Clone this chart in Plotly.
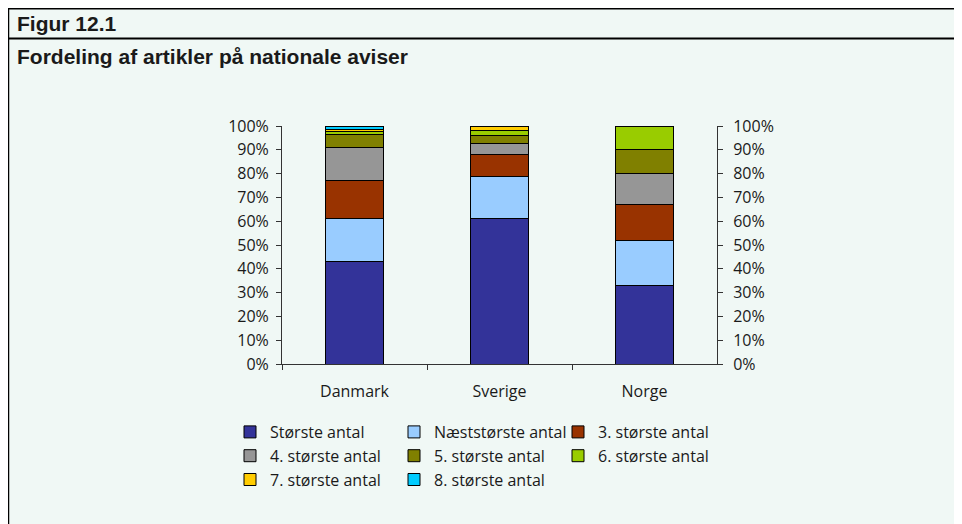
import plotly.graph_objects as go

categories = ["Danmark", "Sverige", "Norge"]
series_names = ["Største antal", "Næststørste antal", "3. største antal", "4. største antal",
                "5. største antal", "6. største antal", "7. største antal", "8. største antal"]
s1 = [43.0, 61.0, 32.8]
s2 = [18.2, 17.8, 19.2]
s3 = [15.8, 9.2, 15.1]
s4 = [14.0, 4.7, 13.0]
s5 = [5.6, 3.4, 10.1]
s6 = [1.2, 2.1, 9.8]
s7 = [0.6, 1.8, 0.0]
s8 = [1.6, 0.0, 0.0]
series_values = [s1, s2, s3, s4, s5, s6, s7, s8]
colors = ["#333399", "#99CCFF", "#993300", "#969696", "#808000", "#99CC00", "#FFCC00", "#00CCFF"]
tick_vals = [0, 10, 20, 30, 40, 50, 60, 70, 80, 90, 100]
tick_text = [f"{v}%" for v in tick_vals]

# page offset (body margin) between screenshot and figure coordinates
OFF = 8
W, H = 962, 524
ML, MT = 282 - OFF - 62, 126 - OFF
GW, GH = 560, 238
MR = W - ML - GW
MB = H - MT - GH


def px_x(px):
    return (px - OFF - ML) / GW


def px_y(py):
    return (MT + GH - (py - OFF)) / GH


FONT = "Open Sans, Noto Sans, DejaVu Sans, sans-serif"
TXT = "#1a1a1a"
MINT = "#F0F8F5"

fig = go.Figure()
for name, vals, col in zip(series_names, series_values, colors):
    fig.add_trace(go.Bar(
        x=categories, y=vals, name=name,
        marker=dict(color=col, line=dict(color="#000000", width=1)),
        width=0.4,
    ))
fig.add_trace(go.Scatter(x=categories, y=[0, 0, 0], mode="none", yaxis="y2",
                         showlegend=False, hoverinfo="skip"))

axis_common = dict(range=[0, 100], tickvals=tick_vals, ticktext=tick_text,
                   showgrid=False, zeroline=False, showline=True, linecolor="#333333",
                   linewidth=1, ticks="outside", ticklen=5, tickcolor="#333333",
                   tickfont=dict(family=FONT, size=16, color=TXT), fixedrange=True)

fig.update_layout(
    width=W, height=H,
    margin=dict(l=ML, r=MR, t=MT, b=MB, pad=0),
    paper_bgcolor=MINT,
    plot_bgcolor="rgba(0,0,0,0)",
    barmode="stack",
    xaxis=dict(domain=[px_x(282), px_x(717)], showgrid=False, zeroline=False,
               showline=True, linecolor="#333333", linewidth=1,
               ticks="outside", ticklen=5, tickcolor="#333333", tickson="boundaries",
               tickfont=dict(family=FONT, size=16, color=TXT), ticklabelstandoff=13),
    yaxis=dict(anchor="x", ticklabelstandoff=4, **axis_common),
    yaxis2=dict(overlaying="y", side="right", anchor="x", ticklabelstandoff=7, **axis_common),
    legend=dict(orientation="h", x=px_x(230), xanchor="left", y=px_y(415), yanchor="top",
                entrywidth=119, entrywidthmode="pixels", traceorder="normal",
                font=dict(family=FONT, size=16, color=TXT), bgcolor="rgba(0,0,0,0)"),
    showlegend=True,
)

shapes = [
    dict(type="line", xref="paper", yref="paper", x0=px_x(7), x1=px_x(975), y0=px_y(8.5), y1=px_y(8.5),
         line=dict(color="#000000", width=2)),
    dict(type="line", xref="paper", yref="paper", x0=px_x(7), x1=px_x(975), y0=px_y(38.5), y1=px_y(38.5),
         line=dict(color="#000000", width=2)),
    dict(type="line", xref="paper", yref="paper", x0=px_x(8.5), x1=px_x(8.5), y0=px_y(8), y1=px_y(540),
         line=dict(color="#000000", width=1.5)),
]
fig.update_layout(shapes=shapes)

TFONT = "Liberation Sans, Arial, sans-serif"
fig.add_annotation(text="<b>Figur 12.1</b>", xref="paper", yref="paper", x=px_x(15), y=px_y(23),
                   xanchor="left", yanchor="middle", showarrow=False,
                   font=dict(family=TFONT, size=21, color=TXT))
fig.add_annotation(text="<b>Fordeling af artikler på nationale aviser</b>", xref="paper", yref="paper",
                   x=px_x(15), y=px_y(57), xanchor="left", yanchor="middle", showarrow=False,
                   font=dict(family=TFONT, size=21, color=TXT))

fig.write_html("out.html")
